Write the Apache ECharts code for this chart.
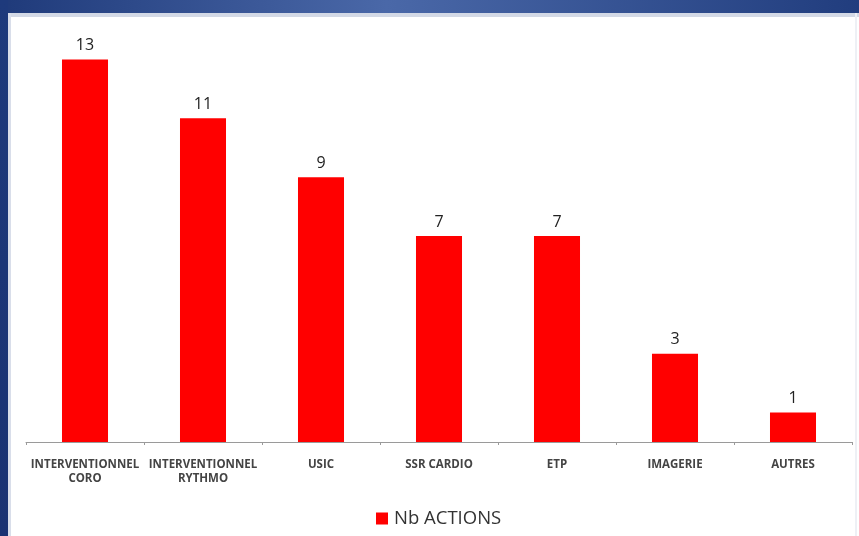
<!DOCTYPE html>
<html>
<head>
<meta charset="utf-8">
<script src="https://cdn.jsdelivr.net/npm/echarts@6/dist/echarts.min.js"></script>
<style>
  html, body { margin: 0; padding: 0; background: #ffffff; }
  #chart { width: 859px; height: 536px; }
</style>
</head>
<body>
<div id="chart"></div>
<script>
// Number of actions per department
const categories = [
  'INTERVENTIONNEL\nCORO',
  'INTERVENTIONNEL\nRYTHMO',
  'USIC',
  'SSR CARDIO',
  'ETP',
  'IMAGERIE',
  'AUTRES'
];
const nbActions = [13, 11, 9, 7, 7, 3, 1];
const seriesName = 'Nb ACTIONS';

const chart = echarts.init(document.getElementById('chart'));

chart.setOption({
  animation: false,
  backgroundColor: '#ffffff',
  graphic: [
    // slide frame: blue band across the top, navy strip on the left
    {
      type: 'rect', z: -10, silent: true,
      shape: { x: 0, y: 0, width: 859, height: 13 },
      style: {
        fill: new echarts.graphic.LinearGradient(0, 0, 1, 0, [
          { offset: 0, color: '#1f3a7a' },
          { offset: 0.45, color: '#4a68a8' },
          { offset: 1, color: '#213d7e' }
        ])
      }
    },
    {
      type: 'rect', z: -10, silent: true,
      shape: { x: 0, y: 13, width: 859, height: 4 },
      style: { fill: '#d3d9e6' }
    },
    {
      type: 'rect', z: -10, silent: true,
      shape: { x: 0, y: 0, width: 8, height: 536 },
      style: {
        fill: new echarts.graphic.LinearGradient(0, 0, 0, 1, [
          { offset: 0, color: '#1e3a7c' },
          { offset: 1, color: '#1a3272' }
        ])
      }
    },
    {
      type: 'rect', z: -10, silent: true,
      shape: { x: 8, y: 13, width: 3, height: 523 },
      style: { fill: '#d9deea' }
    },
    {
      type: 'rect', z: -10, silent: true,
      shape: { x: 855, y: 13, width: 2, height: 523 },
      style: { fill: '#eef0f5' }
    }
  ],
  grid: { left: 26, right: 7, top: 30, bottom: 94 },
  legend: {
    top: 504,
    left: 371,
    itemWidth: 12,
    itemHeight: 12,
    itemGap: 6,
    icon: 'rect',
    textStyle: { fontFamily: 'Open Sans', fontSize: 18.5, color: '#333333', padding: [0, 0, 0, 1] },
    data: [seriesName]
  },
  xAxis: {
    type: 'category',
    data: categories,
    axisLine: { lineStyle: { color: '#9a9a9a', width: 1 } },
    axisTick: { show: true, length: 3, lineStyle: { color: '#9a9a9a' } },
    axisLabel: {
      interval: 0,
      margin: 16,
      fontFamily: 'Open Sans',
      fontSize: 11.5,
      fontWeight: 'bold',
      color: '#444444',
      lineHeight: 14
    }
  },
  yAxis: {
    type: 'value',
    min: 0,
    max: 14,
    show: false,
    splitLine: { show: false }
  },
  series: [{
    name: seriesName,
    type: 'bar',
    data: nbActions,
    barWidth: '39%',
    itemStyle: { color: '#ff0000' },
    label: {
      show: true,
      position: 'top',
      distance: 6,
      fontFamily: 'Open Sans',
      fontSize: 16,
      color: '#222222'
    }
  }]
});
</script>
</body>
</html>
